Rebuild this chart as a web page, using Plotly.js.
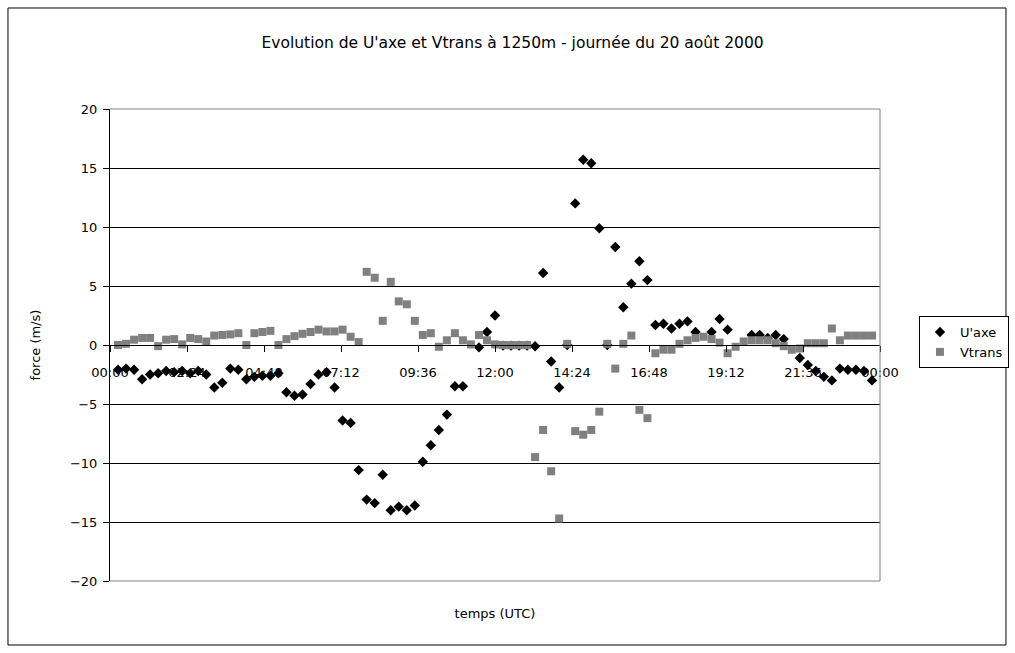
<!DOCTYPE html>
<html>
<head>
<meta charset="utf-8">
<script src="https://cdn.plot.ly/plotly-3.0.1.min.js"></script>
<style>html,body{margin:0;padding:0;background:#fff;}#chart{width:1015px;height:653px;}</style>
</head>
<body>
<div id="chart"></div>
<script>
// Time of day in decimal hours (UTC)
var uTimes = [0.25,0.5,0.75,1.0,1.25,1.5,1.75,2.0,2.25,2.5,2.75,3.0,3.25,3.5,3.75,4.0,4.25,4.5,4.75,5.0,5.25,5.5,5.75,6.0,6.25,6.5,6.75,7.0,
  7.25,7.5,7.75,8.0,8.25,8.5,8.75,9.0,9.25,9.5,9.75,10.0,10.25,10.5,10.75,11.0,11.5,11.75,12.0,12.25,12.5,12.75,13.0,
  13.25,13.5,13.75,14.0,14.25,14.5,14.75,15.0,15.25,15.5,15.75,16.0,16.25,16.5,16.75,17.0,17.25,17.5,17.75,18.0,18.25,
  18.75,19.0,19.25,20.0,20.25,20.5,20.75,21.0,21.5,21.75,22.0,22.25,22.5,22.75,23.0,23.25,23.5,23.75];
var uAxe = [-2.1,-2.0,-2.1,-2.9,-2.5,-2.4,-2.2,-2.3,-2.2,-2.4,-2.2,-2.5,-3.6,-3.2,-2.0,-2.1,-2.9,-2.7,-2.6,-2.6,-2.4,-4.0,-4.3,-4.2,-3.3,-2.5,-2.3,-3.6,
  -6.4,-6.6,-10.6,-13.1,-13.4,-11.0,-14.0,-13.7,-14.0,-13.6,-9.9,-8.5,-7.2,-5.9,-3.5,-3.5,-0.2,1.1,2.5,-0.05,-0.05,-0.05,-0.05,
  -0.1,6.1,-1.4,-3.6,0.0,12.0,15.7,15.4,9.9,0.0,8.3,3.2,5.2,7.1,5.5,1.7,1.8,1.4,1.8,2.0,1.1,
  1.1,2.2,1.3,0.85,0.85,0.6,0.85,0.5,-1.1,-1.7,-2.2,-2.7,-3.0,-2.0,-2.1,-2.1,-2.2,-3.0];

var vTimes = [0.25,0.5,0.75,1.0,1.25,1.5,1.75,2.0,2.25,2.5,2.75,3.0,3.25,3.5,3.75,4.0,4.25,4.5,4.75,5.0,5.25,5.5,5.75,6.0,
  6.25,6.5,6.75,7.0,7.25,7.5,7.75,8.0,8.25,8.5,8.75,9.0,9.25,9.5,9.75,10.0,10.25,10.5,10.75,11.0,11.25,11.5,11.75,12.0,
  12.25,12.5,12.75,13.0,13.25,13.5,13.75,14.0,14.25,14.5,14.75,15.0,15.25,15.5,15.75,16.0,16.25,16.5,16.75,17.0,17.25,17.5,17.75,18.0,
  18.25,18.5,18.75,19.0,19.25,19.5,19.75,20.0,20.25,20.5,20.75,21.0,21.25,21.5,21.75,22.0,22.25,22.5,22.75,23.0,23.25,23.5,23.75];
var vTrans = [0.0,0.1,0.45,0.6,0.6,-0.1,0.45,0.5,0.05,0.6,0.5,0.3,0.8,0.85,0.9,1.0,0.0,1.0,1.1,1.2,0.0,0.5,0.75,0.95,
  1.1,1.3,1.15,1.15,1.3,0.7,0.25,6.2,5.7,2.05,5.35,3.7,3.45,2.05,0.85,1.0,-0.15,0.4,1.0,0.4,0.05,0.85,0.4,0.05,
  0.0,0.0,0.0,0.0,-9.5,-7.2,-10.7,-14.7,0.1,-7.3,-7.6,-7.2,-5.65,0.1,-2.0,0.1,0.8,-5.5,-6.2,-0.7,-0.4,-0.4,0.1,0.4,
  0.6,0.7,0.5,0.2,-0.7,-0.15,0.3,0.4,0.4,0.4,0.15,-0.1,-0.4,-0.3,0.15,0.15,0.15,1.4,0.4,0.8,0.8,0.8,0.8];

var xTickVals = [0, 2.4, 4.8, 7.2, 9.6, 12, 14.4, 16.8, 19.2, 21.6, 24];
var xTickText = ["00:00","02:24","04:48","07:12","09:36","12:00","14:24","16:48","19:12","21:36","00:00"];
var yTickVals = [-20,-15,-10,-5,0,5,10,15,20];

var FONT = "DejaVu Sans, Liberation Sans, Arial, sans-serif";

var traces = [
  {x: uTimes, y: uAxe, name: "U'axe", type: "scatter", mode: "markers",
   marker: {symbol: "diamond", size: 8, color: "#000000"}},
  {x: vTimes, y: vTrans, name: "Vtrans", type: "scatter", mode: "markers",
   marker: {symbol: "square", size: 8, color: "#808080"}},
  {x: [], y: [], xaxis: "x2", yaxis: "y", showlegend: false, hoverinfo: "skip", type: "scatter", mode: "markers"}
];

var layout = {
  width: 1015, height: 653,
  paper_bgcolor: "#ffffff", plot_bgcolor: "#ffffff",
  margin: {l: 110, r: 135, t: 109, b: 72, autoexpand: false},
  font: {family: FONT, size: 13, color: "#000000"},
  showlegend: true,
  title: {text: "Evolution de U'axe et Vtrans à 1250m - journée du 20 août 2000",
          font: {family: FONT, size: 15.5, color: "#000000"},
          xref: "container", x: 0.505, xanchor: "center",
          yref: "container", y: 0.935, yanchor: "middle"},
  xaxis: {range: [0, 24], showticklabels: false, ticks: "", showgrid: false, zeroline: false,
          showline: false, fixedrange: true, automargin: false,
          title: {text: "temps (UTC)", standoff: 27, font: {family: FONT, size: 13}}},
  xaxis2: {overlaying: "x", anchor: "free", position: 0.5, side: "bottom", range: [0, 24],
           tickmode: "array", tickvals: xTickVals, ticktext: xTickText,
           ticks: "outside", ticklen: 6, tickcolor: "#000000", tickwidth: 1,
           showline: true, linecolor: "#000000", linewidth: 1, automargin: false,
           showgrid: false, zeroline: false, ticklabelstandoff: 9,
           tickfont: {family: FONT, size: 13, color: "#000000"}},
  yaxis: {range: [-20, 20], tickmode: "array", tickvals: yTickVals, automargin: false,
          showgrid: true, gridcolor: "#000000", gridwidth: 1, zeroline: false,
          showline: true, linecolor: "#000000", linewidth: 1,
          ticks: "outside", ticklen: 6, tickcolor: "#000000", ticklabelstandoff: 3,
          tickfont: {family: FONT, size: 13, color: "#000000"},
          title: {text: "force (m/s)", standoff: 26, font: {family: FONT, size: 13}}},
  legend: {x: 1.0506, y: 0.5614, xanchor: "left", yanchor: "top",
           bordercolor: "#000000", borderwidth: 1, bgcolor: "#ffffff",
           font: {family: FONT, size: 13, color: "#000000"}, itemwidth: 30, tracegroupgap: 0},
  shapes: [
    {type: "line", xref: "paper", yref: "paper", x0: 0, x1: 1, y0: 1, y1: 1, line: {color: "#808080", width: 1}},
    {type: "line", xref: "paper", yref: "paper", x0: 1, x1: 1, y0: 0, y1: 1, line: {color: "#808080", width: 1}},
    {type: "line", xref: "paper", yref: "paper", x0: 0, x1: 1, y0: 0, y1: 0, line: {color: "#808080", width: 1}},
    {type: "rect", xref: "paper", yref: "paper", x0: -0.1325, x1: 1.1636, y0: -0.1356, y1: 1.214,
     line: {color: "#000000", width: 1}, fillcolor: "rgba(0,0,0,0)", layer: "below"}
  ]
};

Plotly.newPlot("chart", traces, layout, {staticPlot: true, displayModeBar: false});
</script>
</body>
</html>
